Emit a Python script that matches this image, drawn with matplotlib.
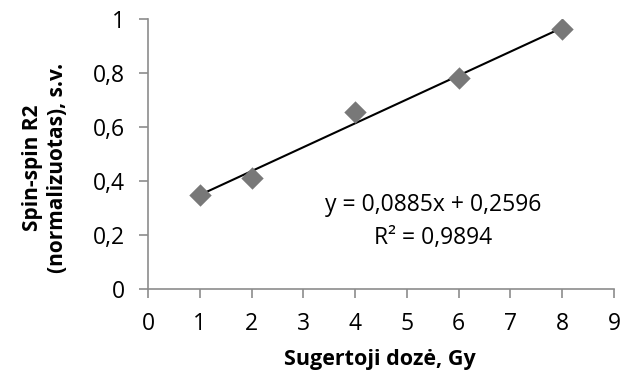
import matplotlib
matplotlib.use("Agg")
import matplotlib.pyplot as plt
import numpy as np

dose = [1, 2, 4, 6, 8]
r2_norm = [0.35, 0.41, 0.656, 0.78, 0.963]
slope = 0.0885
intercept = 0.2596
x_ticks = [0, 1, 2, 3, 4, 5, 6, 7, 8, 9]
y_ticks = [0, 0.2, 0.4, 0.6, 0.8, 1.0]
y_tick_labels = ["0", "0,2", "0,4", "0,6", "0,8", "1"]

plt.rcParams['font.family'] = ['Open Sans', 'DejaVu Sans']

fig = plt.figure(figsize=(6.23, 3.77), dpi=100)
ax = fig.add_axes([148/623, 1-289/377, (614-148)/623, (289-19)/377])

xs = np.array([dose[0], dose[-1]])
ax.plot(xs, slope*xs + intercept, color='black', lw=1.5, zorder=2)
ax.scatter(dose, r2_norm, marker='D', s=130, color='#787878', zorder=3, linewidths=0)

ax.set_xlim(0, 9)
ax.set_ylim(0, 1)
ax.set_xticks(x_ticks)
ax.set_xticklabels([str(t) for t in x_ticks])
ax.set_yticks(y_ticks)
ax.set_yticklabels(y_tick_labels)
for s in ['top', 'right']:
    ax.spines[s].set_visible(False)
for s in ['left', 'bottom']:
    ax.spines[s].set_color('#8c8c8c')
    ax.spines[s].set_linewidth(1.2)
ax.tick_params(axis='both', colors='#8c8c8c', labelcolor='black', labelsize=16.5, length=6.5, width=1.2)
ax.tick_params(axis='x', pad=10)
ax.tick_params(axis='y', pad=10)

ax.set_xlabel("Sugertoji dozė, Gy", fontsize=15.5, fontweight='bold')
ax.xaxis.set_label_coords((380-148)/466, -(349-289)/270)
ax.set_ylabel("Spin-spin R2\n(normalizuotas), s.v.", fontsize=15, fontweight='bold',
              linespacing=1.25)
ax.yaxis.set_label_coords(-(148-68)/466, (289-168)/270)

ax.text(5.5, 0.31, "y = 0,0885x + 0,2596", fontsize=16.5, ha='center', va='center')
ax.text(5.5, 0.19, "R² = 0,9894", fontsize=16.5, ha='center', va='center')

fig.savefig("out.png", dpi=100)
